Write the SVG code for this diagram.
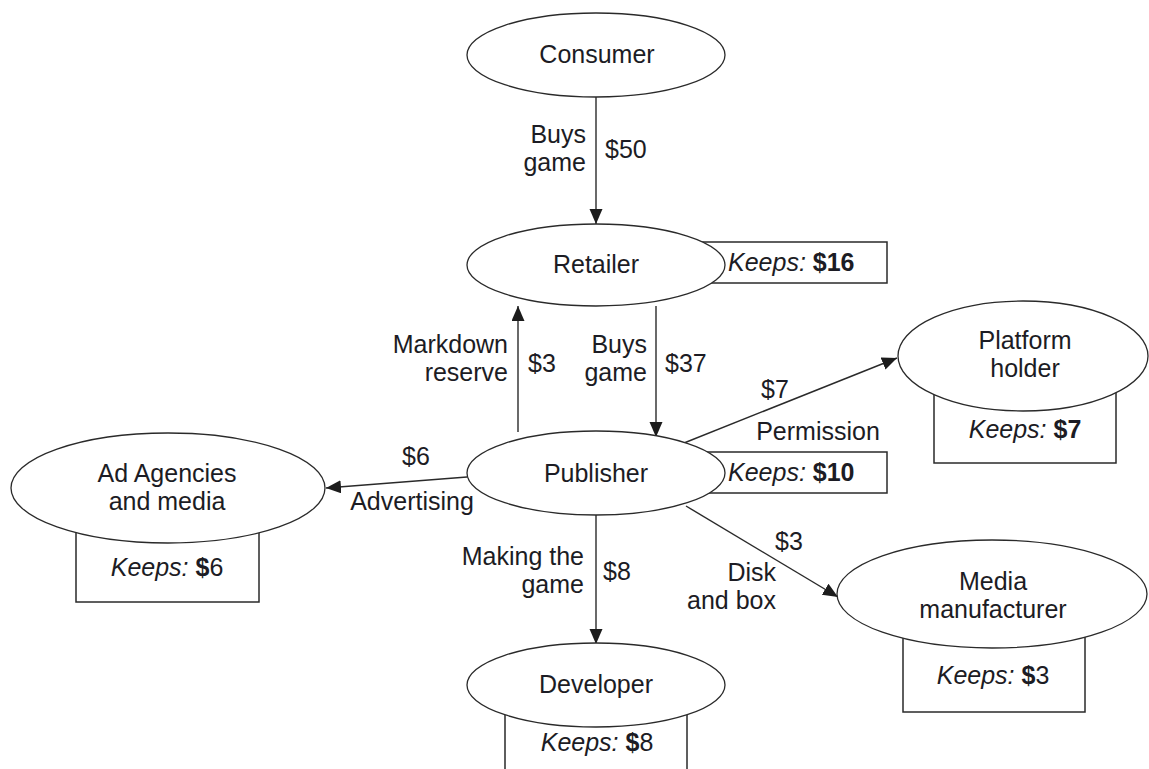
<svg xmlns="http://www.w3.org/2000/svg" width="1149" height="769" viewBox="0 0 1149 769">
  <style>
    text { font-family: "Liberation Sans", Arial, Helvetica, sans-serif; font-size: 25px; fill: #1c1c24; }
    .c { text-anchor: middle; }
    .r { text-anchor: end; }
    .node { fill: #ffffff; stroke: #2a2a2a; stroke-width: 1.3; }
    .box { fill: #ffffff; stroke: #2a2a2a; stroke-width: 1.5; }
    .edge { fill: none; stroke: #2a2a2a; stroke-width: 1.4; marker-end: url(#arrow); }
    .it { font-style: italic; }
    .b { font-weight: bold; }
  </style>
  <defs>
    <marker id="arrow" markerUnits="userSpaceOnUse" markerWidth="16" markerHeight="14" refX="15" refY="6.5" orient="auto">
      <path d="M0,0 L15,6.5 L0,13 z" fill="#1c1c1c"/>
    </marker>
  </defs>
  <rect width="1149" height="769" fill="#ffffff"/>

  <!-- connectors and their labels -->
  <g id="connectors">
    <line class="edge" x1="596" y1="97" x2="596" y2="224"/>
    <line class="edge" x1="656" y1="306" x2="656" y2="437"/>
    <line class="edge" x1="518" y1="432" x2="518" y2="306"/>
    <line class="edge" x1="684" y1="443" x2="897" y2="358"/>
    <line class="edge" x1="467" y1="477" x2="326" y2="488"/>
    <line class="edge" x1="596" y1="515" x2="596" y2="644"/>
    <line class="edge" x1="686" y1="506" x2="838" y2="597"/>

    <text class="r" x="586" y="143">Buys</text>
    <text class="r" x="586" y="171">game</text>
    <text x="605" y="158">$50</text>

    <text class="r" x="508" y="353">Markdown</text>
    <text class="r" x="508" y="381">reserve</text>
    <text x="528" y="372">$3</text>

    <text class="r" x="647" y="353">Buys</text>
    <text class="r" x="647" y="381">game</text>
    <text x="665" y="372">$37</text>

    <text x="761" y="398">$7</text>
    <text class="c" x="818" y="440">Permission</text>

    <text class="c" x="416" y="465">$6</text>
    <text class="c" x="412" y="510">Advertising</text>

    <text class="r" x="584" y="565">Making the</text>
    <text class="r" x="584" y="593">game</text>
    <text x="603" y="580">$8</text>

    <text x="775" y="550">$3</text>
    <text class="r" x="776" y="581">Disk</text>
    <text class="r" x="776" y="609">and box</text>
  </g>

  <g id="consumer">
    <ellipse class="node" cx="596" cy="55" rx="129" ry="42"/>
    <text class="c" x="597" y="63">Consumer</text>
  </g>

  <g id="retailer">
    <rect class="box" x="700" y="242" width="187" height="41"/>
    <ellipse class="node" cx="596" cy="265" rx="129" ry="41"/>
    <text class="c" x="596" y="273">Retailer</text>
    <text x="728" y="271"><tspan class="it">Keeps: </tspan><tspan class="b">$16</tspan></text>
  </g>

  <g id="publisher">
    <rect class="box" x="700" y="452" width="187" height="41"/>
    <ellipse class="node" cx="596" cy="473" rx="129" ry="42"/>
    <text class="c" x="596" y="482">Publisher</text>
    <text x="728" y="481"><tspan class="it">Keeps: </tspan><tspan class="b">$10</tspan></text>
  </g>

  <g id="platform-holder">
    <rect class="box" x="934" y="380" width="182" height="83"/>
    <ellipse class="node" cx="1023" cy="356" rx="125" ry="55"/>
    <text class="c" x="1025" y="349">Platform</text>
    <text class="c" x="1025" y="377">holder</text>
    <text class="c" x="1025" y="438"><tspan class="it">Keeps: </tspan><tspan class="b">$7</tspan></text>
  </g>

  <g id="ad-agencies">
    <rect class="box" x="76" y="510" width="183" height="92"/>
    <ellipse class="node" cx="168" cy="488" rx="157" ry="55"/>
    <text class="c" x="167" y="482">Ad Agencies</text>
    <text class="c" x="167" y="510">and media</text>
    <text class="c" x="167" y="576"><tspan class="it">Keeps: </tspan><tspan class="b">$</tspan>6</text>
  </g>

  <g id="developer">
    <rect class="box" x="505" y="700" width="182" height="90"/>
    <ellipse class="node" cx="596" cy="685" rx="129" ry="42"/>
    <text class="c" x="596" y="693">Developer</text>
    <text class="c" x="597" y="751"><tspan class="it">Keeps: </tspan><tspan class="b">$</tspan>8</text>
  </g>

  <g id="media-manufacturer">
    <rect class="box" x="903" y="620" width="182" height="92"/>
    <ellipse class="node" cx="992" cy="594" rx="155" ry="54"/>
    <text class="c" x="993" y="590">Media</text>
    <text class="c" x="993" y="618">manufacturer</text>
    <text class="c" x="993" y="684"><tspan class="it">Keeps: </tspan><tspan class="b">$</tspan>3</text>
  </g>
</svg>
